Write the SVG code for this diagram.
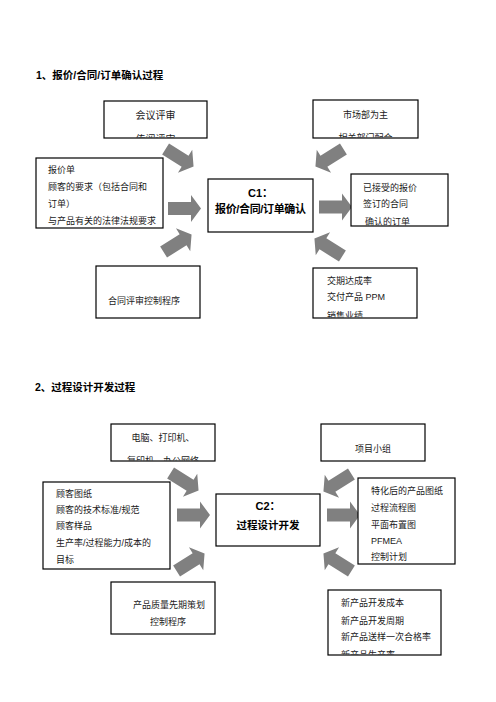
<svg xmlns="http://www.w3.org/2000/svg" width="496" height="702" viewBox="0 0 496 702">
<style>
text{font-family:"Liberation Sans","Noto Sans CJK SC",sans-serif;font-size:9px;fill:#1a1a1a}
.t{font-size:10.5px;font-weight:bold;fill:#000}
.c{font-size:11px;font-weight:bold;fill:#000}
.m{text-anchor:middle}
.box{fill:#fff;stroke:#000;stroke-width:1.2}
.arr{fill:#808080}
</style>
<defs>
<path id="ar" d="M-17,-6.5 L6,-6.5 L6,-13.5 L16,0 L6,13.5 L6,6.5 L-17,6.5 Z"/>
<clipPath id="cA"><rect x="104" y="101" width="103" height="36.5"/></clipPath>
<clipPath id="cD"><rect x="313" y="100" width="105" height="37.5"/></clipPath>
<clipPath id="cE"><rect x="351" y="174" width="97" height="51.5"/></clipPath>
<clipPath id="cG"><rect x="313" y="268" width="104" height="49.5"/></clipPath>
<clipPath id="cH"><rect x="111" y="424" width="104" height="36.5"/></clipPath>
<clipPath id="cM"><rect x="328" y="590" width="113" height="64.5"/></clipPath>
</defs>
<rect width="496" height="702" fill="#fff"/>

<text class="t" x="36" y="79">1、报价/合同/订单确认过程</text>
<text class="t" x="35" y="391">2、过程设计开发过程</text>

<g id="connectors">
<use href="#ar" class="arr" transform="translate(180,158) rotate(32)"/>
<use href="#ar" class="arr" transform="translate(185,208.5)"/>
<use href="#ar" class="arr" transform="translate(178,243) rotate(-32)"/>
<use href="#ar" class="arr" transform="translate(329,158) rotate(148)"/>
<use href="#ar" class="arr" transform="translate(336,207)"/>
<use href="#ar" class="arr" transform="translate(328,247) rotate(-148)"/>
<use href="#ar" class="arr" transform="translate(185,482) rotate(32)"/>
<use href="#ar" class="arr" transform="translate(194,515)"/>
<use href="#ar" class="arr" transform="translate(191,562) rotate(-32)"/>
<use href="#ar" class="arr" transform="translate(337,483) rotate(148)"/>
<use href="#ar" class="arr" transform="translate(344,515)"/>
<use href="#ar" class="arr" transform="translate(337,562) rotate(-148)"/>
</g>

<g id="n_meeting">
<rect class="box" x="104" y="101" width="103" height="37"/>
<g clip-path="url(#cA)">
<text class="m" x="155.5" y="119" style="font-size:10px">会议评审</text>
<text class="m" x="155.5" y="142.5" style="font-size:10px">传阅评审</text>
</g>
</g>

<g id="n_inputs1">
<rect class="box" x="36" y="158" width="127" height="70"/>
<text x="48" y="173">报价单</text>
<text x="48" y="190">顾客的要求（包括合同和</text>
<text x="48" y="207">订单）</text>
<text x="48" y="224">与产品有关的法律法规要求</text>
</g>

<g id="n_c1">
<rect class="box" x="208" y="179" width="105" height="53"/>
<text class="c m" x="260.5" y="197">C1：</text>
<text class="c m" x="260.5" y="213" textLength="91" lengthAdjust="spacing">报价/合同/订单确认</text>
</g>

<g id="n_market">
<rect class="box" x="313" y="100" width="105" height="38"/>
<g clip-path="url(#cD)">
<text class="m" x="365.5" y="118">市场部为主</text>
<text class="m" x="365.5" y="140.5">相关部门配合</text>
</g>
</g>

<g id="n_outputs1">
<rect class="box" x="351" y="174" width="97" height="52"/>
<g clip-path="url(#cE)">
<text x="363" y="191">已接受的报价</text>
<text x="363" y="207">签订的合同</text>
<text x="365" y="225">确认的订单</text>
</g>
</g>

<g id="n_review">
<rect class="box" x="96" y="266" width="104" height="52"/>
<text x="108" y="304">合同评审控制程序</text>
</g>

<g id="n_kpi1">
<rect class="box" x="313" y="268" width="104" height="50"/>
<g clip-path="url(#cG)">
<text x="327" y="284">交期达成率</text>
<text x="327" y="300">交付产品 PPM</text>
<text x="327" y="318.5">销售业绩</text>
</g>
</g>

<g id="n_equip">
<rect class="box" x="111" y="424" width="104" height="37"/>
<g clip-path="url(#cH)">
<text class="m" x="163" y="440.5">电脑、打印机、</text>
<text class="m" x="163" y="464">复印机、办公网络</text>
</g>
</g>

<g id="n_inputs2">
<rect class="box" x="43" y="482" width="127" height="87"/>
<text x="56" y="497">顾客图纸</text>
<text x="56" y="513">顾客的技术标准/规范</text>
<text x="56" y="529">顾客样品</text>
<text x="56" y="546">生产率/过程能力/成本的</text>
<text x="56" y="563">目标</text>
</g>

<g id="n_c2">
<rect class="box" x="216" y="494" width="104" height="52"/>
<text class="c m" x="268" y="510">C2：</text>
<text class="c m" x="268" y="528.5" style="font-size:10.5px">过程设计开发</text>
</g>

<g id="n_team">
<rect class="box" x="321" y="424" width="104" height="37"/>
<text class="m" x="373" y="452">项目小组</text>
</g>

<g id="n_outputs2">
<rect class="box" x="358" y="478" width="97" height="86"/>
<text x="371" y="494">特化后的产品图纸</text>
<text x="371" y="511">过程流程图</text>
<text x="371" y="528">平面布置图</text>
<text x="371" y="544">PFMEA</text>
<text x="371" y="560">控制计划</text>
</g>

<g id="n_apqp">
<rect class="box" x="111" y="582" width="104" height="52"/>
<text x="133" y="608">产品质量先期策划</text>
<text x="150" y="625">控制程序</text>
</g>

<g id="n_kpi2">
<rect class="box" x="328" y="590" width="113" height="65"/>
<g clip-path="url(#cM)">
<text x="341" y="606">新产品开发成本</text>
<text x="341" y="624">新产品开发周期</text>
<text x="341" y="640">新产品送样一次合格率</text>
<text x="341" y="658">新产品生产率</text>
</g>
</g>
</svg>
